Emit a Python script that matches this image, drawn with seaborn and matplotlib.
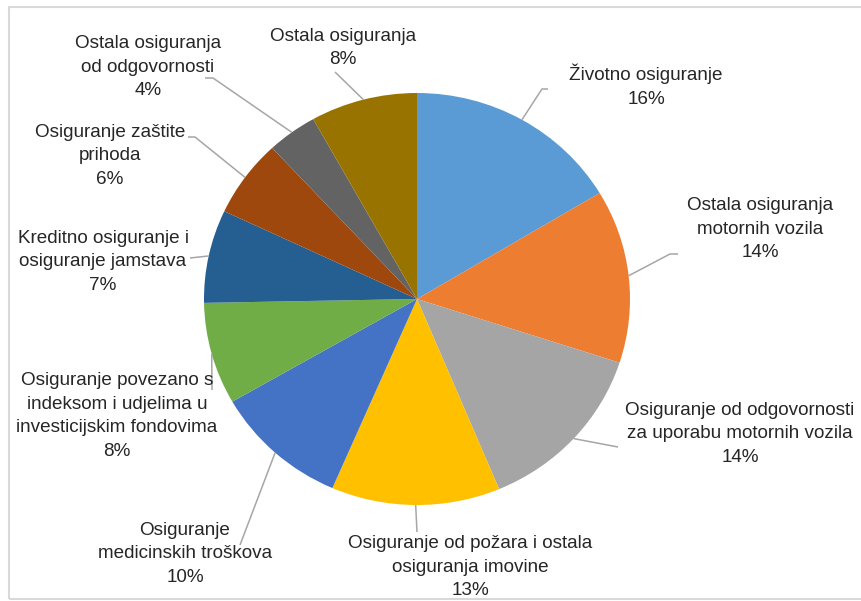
import matplotlib
matplotlib.use("Agg")
import matplotlib.pyplot as plt
import seaborn as sns
import numpy as np
from matplotlib.patches import Rectangle

# ---- data -------------------------------------------------------------
categories = [
    "Životno osiguranje",
    "Ostala osiguranja\nmotornih vozila",
    "Osiguranje od odgovornosti\nza uporabu motornih vozila",
    "Osiguranje od požara i ostala\nosiguranja imovine",
    "Osiguranje\nmedicinskih troškova",
    "Osiguranje povezano s\nindeksom i udjelima u\ninvesticijskim fondovima",
    "Kreditno osiguranje i\nosiguranje jamstava",
    "Osiguranje zaštite\nprihoda",
    "Ostala osiguranja\nod odgovornosti",
    "Ostala osiguranja",
]
shares = [16.4, 13.6, 13.7, 12.8, 10.2, 8.0, 7.3, 6.1, 3.8, 8.1]
colors = ["#5B9BD5", "#ED7D31", "#A5A5A5", "#FFC000", "#4472C4",
          "#70AD47", "#255E91", "#9E480E", "#636363", "#997300"]

# ---- layout (pixels in the 861x601 canvas) -----------------------------
W, H = 861, 601
CX, CY, RX, RY = 417, 299, 213, 206
label_pos = [(646, 86), (760, 229), (740, 434), (470, 567), (185, 554),
             (117, 416), (103, 262), (110, 156), (148, 67), (343, 48)]
leader_pts = [
    [(542, 89), (548, 89)],
    [(670, 254), (678, 254)],
    [(618, 447)],
    [(417, 532)],
    [(240, 545)],
    [(212, 390)],
    [(190, 258)],
    [(195, 137), (188, 137)],
    [(213, 78), (205, 78)],
    [(335, 72)],
]

def px2d(px, py):
    return (px - CX) / RX, (CY - py) / RY

sns.set_theme(style="white")
plt.rcParams["font.family"] = ["Liberation Sans", "DejaVu Sans"]

fig = plt.figure(figsize=(W / 100, H / 100), dpi=100)
fig.patch.set_facecolor("white")
ax = fig.add_axes([0, 0, 1, 1])

wedges, _ = ax.pie(shares, colors=colors, startangle=90, counterclock=False,
                   radius=1, center=(0, 0), wedgeprops=dict(linewidth=0))
ax.set_aspect("auto")
x0, y0 = px2d(0, 0)
x1, y1 = px2d(W, H)
ax.set_xlim(x0, x1)
ax.set_ylim(y1, y0)
ax.axis("off")

total = sum(shares)
cum = 0.0
for i, (cat, v) in enumerate(zip(categories, shares)):
    mid = (cum + v / 2) / total * 2 * np.pi
    cum += v
    sx, sy = np.sin(mid), np.cos(mid)
    pts = [(sx, sy)] + [px2d(*p) for p in leader_pts[i]]
    xs, ys = zip(*pts)
    ax.plot(xs, ys, color="#A6A6A6", lw=1.1, solid_capstyle="butt")
    lx, ly = px2d(*label_pos[i])
    pct = f"{round(v / total * 100):d}%"
    ax.text(lx, ly, cat + "\n" + pct, ha="center", va="center",
            multialignment="center", fontsize=13.6, color="#262626",
            linespacing=1.5)

# outer chart border (partially cropped in the reference)
fig.patches.append(Rectangle((9 / W, 1 - 599 / H), 1.05, (599 - 7) / H,
                             transform=fig.transFigure, fill=False,
                             edgecolor="#D9D9D9", lw=1.5))

fig.savefig("out.png", dpi=100, facecolor="white")
